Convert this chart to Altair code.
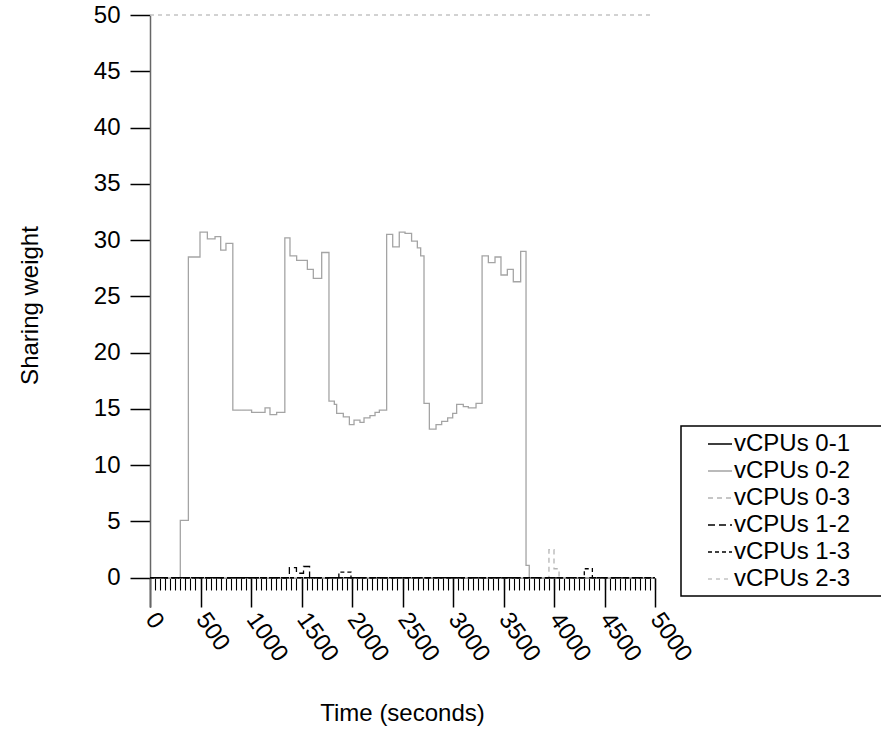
import altair as alt
import pandas as pd

FONT = "Liberation Sans"

SERIES = ["vCPUs 0-1", "vCPUs 0-2", "vCPUs 0-3", "vCPUs 1-2", "vCPUs 1-3", "vCPUs 2-3"]
COLORS = ["#000000", "#a4a4a4", "#b4b4b4", "#000000", "#000000", "#c4c4c4"]
DASHES = [[1, 0], [1, 0], [5, 4], [7, 4], [4, 3], [4, 4]]

# step data (time in seconds, sharing weight)
T01 = [0, 5000]
V01 = [0, 0]

T02 = [0, 300, 380, 495, 568, 644, 700, 752, 820, 1006, 1139, 1188, 1254,
       1335, 1386, 1452, 1558, 1617, 1700, 1772, 1825, 1848, 1914, 1974, 2020,
       2079, 2119, 2178, 2228, 2271, 2343, 2403, 2468, 2525, 2590, 2647, 2680,
       2713, 2766, 2832, 2888, 2947, 2997, 3036, 3102, 3152, 3228, 3288, 3350,
       3416, 3475, 3538, 3597, 3670, 3723, 3755, 5000]
V02 = [0, 5.1, 28.5, 30.7, 30.1, 30.3, 29.1, 29.7, 14.9, 14.7, 15.1, 14.5, 14.7,
       30.2, 28.6, 28.2, 27.4, 26.6, 28.9, 15.7, 15.4, 14.6, 14.3, 13.6, 14.0,
       13.8, 14.2, 14.4, 14.7, 14.9, 30.5, 29.4, 30.7, 30.6, 29.9, 29.3, 28.6,
       15.5, 13.2, 13.6, 13.9, 14.2, 14.6, 15.4, 15.2, 15.1, 15.5, 28.6, 28.0,
       28.5, 26.9, 27.4, 26.3, 29.0, 1.1, 0, 0]

T03 = [0, 3950, 4000, 4050, 5000]
V03 = [0, 2.5, 0.8, 0, 0]

T12 = [0, 1380, 1450, 1520, 1580, 5000]
V12 = [0, 0.9, 0.4, 1.0, 0, 0]

T13 = [0, 1870, 1990, 4300, 4380, 5000]
V13 = [0, 0.5, 0, 0.8, 0, 0]

T23 = [0, 4980]
V23 = [50, 50]

X_TICKS = [0, 500, 1000, 1500, 2000, 2500, 3000, 3500, 4000, 4500, 5000]
X_MINOR = list(range(0, 5001, 50))
Y_TICKS = [0, 5, 10, 15, 20, 25, 30, 35, 40, 45, 50]

# blank padding after each legend label so the legend box border runs past the right edge
PAD = "\u00a0" * 4 + "\u200b"
legend = alt.Legend(labelExpr="datum.label + '" + PAD + "'")

rows = []
for name, ts, vs in zip(SERIES, [T01, T02, T03, T12, T13, T23],
                        [V01, V02, V03, V12, V13, V23]):
    for t, v in zip(ts, vs):
        rows.append({"series": name, "t": t, "v": v})
df = pd.DataFrame(rows)

xscale = alt.Scale(domain=[0, 5000], nice=False, zero=False)
yscale = alt.Scale(domain=[-2.6, 50], nice=False, zero=False)

lines = alt.Chart(df).mark_line(interpolate="step-after", strokeWidth=1.3).encode(
    x=alt.X("t:Q", scale=xscale,
            axis=alt.Axis(values=X_TICKS, format="d", orient="bottom", offset=-29,
                          domain=False, tickSize=29, tickWidth=1.5, tickColor="black",
                          labelAngle=55, labelAlign="left", labelBaseline="middle",
                          labelPadding=8, labelFontSize=24, labelFont=FONT,
                          labelColor="black", labelFlush=False, labelOverlap=False,
                          grid=False, title="Time (seconds)", titleFontSize=24,
                          titleFont=FONT, titleFontWeight="normal", titleColor="black",
                          titleX=252, titleY=142, titleAlign="center",
                          titleBaseline="alphabetic")),
    y=alt.Y("v:Q", scale=yscale,
            axis=alt.Axis(values=Y_TICKS, domainColor="#666666", domainWidth=1.5,
                          tickSize=20, tickWidth=1.5, tickColor="black",
                          labelPadding=10, labelFontSize=24, labelFont=FONT,
                          labelColor="black", grid=False, title="Sharing weight",
                          titleFontSize=24, titleFont=FONT, titleFontWeight="normal",
                          titleColor="black", titleAngle=270, titleX=-113, titleY=290,
                          titleAlign="center", titleBaseline="alphabetic")),
    color=alt.Color("series:N", title=None, legend=legend,
                    scale=alt.Scale(domain=SERIES, range=COLORS)),
    strokeDash=alt.StrokeDash("series:N", title=None, legend=legend,
                              scale=alt.Scale(domain=SERIES, range=DASHES)),
    order=alt.Order("t:Q"),
)

minor = alt.Chart(df).mark_point(opacity=0).encode(
    x=alt.X("t:Q", scale=xscale,
            axis=alt.Axis(values=X_MINOR, orient="bottom", offset=-29, domain=False,
                          tickSize=12, tickWidth=1.1, tickColor="black",
                          labels=False, grid=False, title=None)),
)

chart = alt.layer(lines, minor).resolve_axis(x="independent").properties(
    width=505, height=592,
    autosize=alt.AutoSizeParams(type="none"),
    padding={"left": 150, "top": 15, "right": 226, "bottom": 133},
).configure_view(stroke=None).configure_legend(
    orient="none", legendX=531, legendY=411,
    strokeColor="black", strokeWidth=1.5, padding=5, labelFontSize=24,
    labelFont=FONT, labelColor="black", symbolType="stroke", symbolSize=576,
    symbolStrokeWidth=1.5, symbolOffset=21, labelOffset=1,
    labelLimit=400, cornerRadius=0,
)

chart.save("out.html", embed_options={"renderer": "svg", "actions": False})
